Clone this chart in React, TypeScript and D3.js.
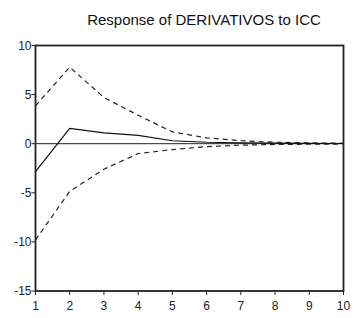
import React from 'react';
import * as d3 from 'd3';

const periods = [1, 2, 3, 4, 5, 6, 7, 8, 9, 10];
const response = [-2.85, 1.55, 1.1, 0.85, 0.3, 0.15, 0.08, 0.05, 0.03, 0.02];
const upperBand = [3.85, 7.8, 4.7, 2.9, 1.2, 0.6, 0.3, 0.15, 0.08, 0.05];
const lowerBand = [-9.8, -4.85, -2.6, -1.0, -0.6, -0.3, -0.15, -0.08, -0.05, -0.03];
const yTicks = [-15, -10, -5, 0, 5, 10];

const W = 356;
const H = 318;
const margin = { top: 45.5, right: 12.5, bottom: 27, left: 35.5 };

const App: React.FC = () => {
  const x = d3
    .scaleLinear()
    .domain([1, 10])
    .range([margin.left, W - margin.right]);
  const y = d3
    .scaleLinear()
    .domain([-15, 10])
    .range([H - margin.bottom, margin.top]);

  const line = d3
    .line<number>()
    .x((_, i) => x(periods[i]))
    .y((d) => y(d));

  const font = 'Liberation Sans, Arial, sans-serif';

  return (
    <svg
      width={W}
      height={H}
      style={{ position: 'absolute', left: 0, top: 0, background: '#fff' }}
    >
      <text
        x={204}
        y={25}
        textAnchor="middle"
        fontFamily={font}
        fontSize={15}
        fill="#111"
      >
        Response of DERIVATIVOS to ICC
      </text>

      {/* zero line */}
      <line
        x1={x(1)}
        x2={x(10)}
        y1={y(0)}
        y2={y(0)}
        stroke="#222"
        strokeWidth={1}
      />

      <path d={line(upperBand) || ''} fill="none" stroke="#222" strokeWidth={1.2} strokeDasharray="5,4" />
      <path d={line(lowerBand) || ''} fill="none" stroke="#222" strokeWidth={1.2} strokeDasharray="5,4" />
      <path d={line(response) || ''} fill="none" stroke="#111" strokeWidth={1.2} />

      {/* frame */}
      <rect
        x={x(1)}
        y={y(10)}
        width={x(10) - x(1)}
        height={y(-15) - y(10)}
        fill="none"
        stroke="#222"
        strokeWidth={1.8}
      />

      {yTicks.map((t) => (
        <g key={`y${t}`}>
          <line x1={x(1) - 4} x2={x(1)} y1={y(t)} y2={y(t)} stroke="#222" strokeWidth={1} />
          <text
            x={x(1) - 4}
            y={y(t)}
            dy="0.36em"
            textAnchor="end"
            fontFamily={font}
            fontSize={12}
            fill="#222"
          >
            {t}
          </text>
        </g>
      ))}

      {periods.map((p) => (
        <g key={`x${p}`}>
          <line x1={x(p)} x2={x(p)} y1={y(-15)} y2={y(-15) + 4} stroke="#222" strokeWidth={1} />
          <text
            x={x(p)}
            y={y(-15) + 19}
            textAnchor="middle"
            fontFamily={font}
            fontSize={12}
            fill="#222"
          >
            {p}
          </text>
        </g>
      ))}
    </svg>
  );
};

export default App;
